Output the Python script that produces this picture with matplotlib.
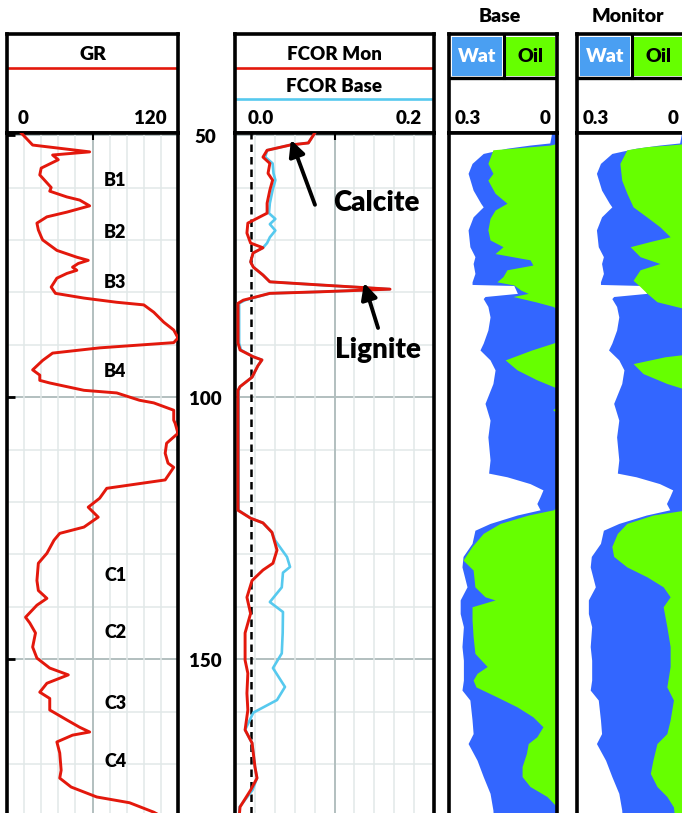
import numpy as np
import matplotlib
matplotlib.use("Agg")
import matplotlib.pyplot as plt
from matplotlib.patches import Rectangle
from matplotlib.transforms import blended_transform_factory

plt.rcParams['font.family'] = ['Lato', 'DejaVu Sans']
plt.rcParams['font.weight'] = 'heavy'

# ---------------- data ----------------
gr_depth = [49.6, 51.9, 53.2, 53.8, 54.7, 56.3, 57.6, 60.0, 60.7, 61.8, 62.4, 63.5, 64.7, 65.6,
            66.8, 68.1, 69.4, 70.0, 72.0, 73.3, 73.9, 74.5, 75.2, 75.8, 76.4, 77.3, 79.0, 80.2,
            81.1, 81.9, 82.4, 83.8, 85.7, 87.2, 88.7, 89.6, 90.6, 91.6, 93.0, 94.8, 95.8, 96.8,
            97.3, 98.7, 99.2, 100.6, 101.1, 102.5, 104.4, 105.0, 106.9, 108.8, 110.7, 112.6,
            113.4, 115.8, 117.4, 119.3, 121.0, 122.9, 124.8, 126.0, 127.3, 129.8, 131.7, 135.0,
            136.9, 138.4, 139.7, 142.0, 143.1, 145.0, 147.7, 149.8, 151.7, 153.0, 154.6, 156.3,
            157.5, 159.7, 161.6, 163.0, 163.9, 164.5, 165.8, 167.9, 171.2, 172.7, 174.4, 176.3,
            177.4, 179.2, 181.0]
gr_api = [10, 18, 58, 32, 36, 24, 23, 31, 30, 42, 51, 58, 42, 28,
          21, 22, 24, 25, 35, 49, 57, 50, 46, 49, 42, 35, 31, 34,
          54, 77, 96, 103, 110, 117, 120, 117, 65, 32, 25, 18, 23, 23,
          30, 54, 77, 93, 103, 117, 117, 118, 120, 112, 111, 113,
          117, 111, 70, 65, 57, 64, 54, 37, 33, 28, 22, 21,
          22, 28, 21, 13, 16, 20, 18, 21, 30, 43, 28, 23,
          30, 30, 42, 51, 58, 46, 35, 37, 38, 37, 45, 63,
          86, 103, 115]

zone_names = ["B1", "B2", "B3", "B4", "C1", "C2", "C3", "C4"]
zone_depths = [58.6, 68.5, 78.2, 95.2, 134.0, 144.9, 158.4, 169.6]

fcor_mon_depth = [49.6, 51.5, 51.9, 52.9, 54.2, 55.4, 57.3, 58.6, 60.5, 63.0, 64.9, 65.8, 66.8,
                  68.7, 70.6, 71.5, 72.5, 74.2, 75.2, 76.7, 78.0, 78.6, 79.4, 79.9, 80.2, 81.5,
                  82.1, 89.7, 91.0, 92.3, 92.9, 94.0, 96.2, 98.0, 98.7, 121.6, 123.1, 124.0,
                  125.8, 129.2, 131.7, 133.0, 135.0, 138.2, 141.3, 145.0, 150.2, 152.7, 156.5,
                  159.7, 163.5, 166.0, 170.6, 172.7, 175.0, 178.2, 182.6]
fcor_mon = [0.070, 0.063, 0.043, 0.018, 0.0135, 0.021, 0.019, 0.024, 0.021, 0.018, 0.018, 0.008,
            -0.003, -0.004, 0.0, 0.0135, 0.0027, 0.0, 0.003, 0.0135, 0.021, 0.076, 0.152, 0.076,
            0.021, -0.008, -0.0137, -0.0137, -0.0115, 0.003, 0.0124, 0.008, 0.0016, -0.0115,
            -0.0137, -0.0137, 0.0, 0.0135, 0.0233, 0.0288, 0.0244, 0.0135, 0.0016, -0.004, 0.0,
            -0.006, -0.006, -0.003, -0.004, -0.003, -0.006, 0.0016, 0.0048, 0.007, 0.0, -0.0115,
            -0.0137]

fcor_base_depth = [49.6, 51.5, 51.9, 52.9, 54.2, 55.4, 57.3, 58.6, 60.5, 63.0, 64.9, 66.0, 67.0,
                   68.2, 69.5, 70.6, 71.5, 72.5, 74.2, 75.2, 76.7, 78.0, 78.6, 79.4, 79.9, 80.2,
                   81.5, 82.1, 89.7, 91.0, 92.3, 92.9, 94.0, 96.2, 98.0, 98.7, 121.6, 123.1,
                   124.0, 125.8, 127.3, 130.5, 132.4, 133.5, 136.3, 139.1, 141.0, 145.0, 148.9,
                   151.7, 155.3, 157.8, 160.2, 161.3, 163.5, 166.0, 170.6, 172.7, 175.0, 178.2,
                   182.6]
fcor_base = [0.070, 0.063, 0.043, 0.018, 0.016, 0.024, 0.025, 0.027, 0.024, 0.021, 0.020, 0.027,
             0.021, 0.027, 0.021, 0.018, 0.0135, 0.0027, 0.0, 0.003, 0.0135, 0.021, 0.076, 0.152,
             0.076, 0.021, -0.006, -0.0125, -0.0125, -0.0105, 0.003, 0.0124, 0.008, 0.0016,
             -0.0115, -0.0130, -0.0130, 0.0, 0.0135, 0.0233, 0.0266, 0.0397, 0.043, 0.0353,
             0.034, 0.021, 0.0353, 0.035, 0.034, 0.0244, 0.0375, 0.0288, 0.003, 0.0, -0.006,
             0.0016, 0.0048, 0.007, 0.002, -0.012, -0.0137]

# porosity (shared by both saturation tracks)
phi_depth = [49.6, 51.5, 51.9, 52.5, 53.5, 55.4, 57.3, 60.5, 63.0, 63.7, 64.3, 65.6, 68.1, 71.3,
             73.2, 74.5, 76.4, 78.0, 78.5, 78.7, 80.2, 80.8, 81.2, 82.7, 84.7, 87.2, 89.7, 91.0,
             92.9, 94.8, 97.4, 101.2, 104.4, 107.6, 112.0, 114.5, 115.2, 116.5, 117.7, 119.0,
             120.3, 121.5, 122.5, 124.1, 125.4, 127.9, 130.4, 132.4, 136.2, 138.7, 141.3, 143.8,
             147.6, 150.2, 154.0, 155.9, 157.8, 161.6, 164.2, 166.1, 169.3, 172.4, 175.6, 178.8,
             182.6]
phi = [0.015, 0.02, 0.075, 0.139, 0.205, 0.236, 0.247, 0.233, 0.212, 0.205, 0.214, 0.233, 0.247,
       0.242, 0.228, 0.233, 0.228, 0.236, 0.236, 0.12, 0.11, 0.20, 0.205, 0.192, 0.186, 0.192,
       0.205, 0.214, 0.186, 0.172, 0.178, 0.20, 0.186, 0.192, 0.186, 0.19, 0.139, 0.075, 0.039,
       0.047, 0.056, 0.047, 0.111, 0.186, 0.228, 0.236, 0.261, 0.264, 0.25, 0.269, 0.269, 0.26,
       0.264, 0.26, 0.26, 0.264, 0.242, 0.236, 0.233, 0.247, 0.222, 0.205, 0.186, 0.178, 0.175]

bvo_base_depth = [49.6, 51.6, 51.9, 52.2, 52.8, 55.4, 57.3, 58.6, 61.1, 63.0, 64.3, 65.9, 68.1,
                  70.0, 71.3, 72.6, 73.8, 74.8, 75.7, 77.0, 78.0, 78.6, 79.6, 80.2, 80.8, 81.8,
                  82.7, 83.2, 89.4, 89.7, 91.0, 92.9, 94.8, 96.7, 98.0, 98.3, 101.8, 102.4, 103.0,
                  120.9, 121.5, 122.5, 124.1, 126.0, 128.5, 131.1, 133.0, 136.2, 138.1, 138.7,
                  140.0, 142.5, 145.7, 148.9, 151.4, 152.7, 154.0, 155.3, 157.2, 159.1, 161.0,
                  162.9, 164.8, 166.1, 168.0, 170.5, 172.4, 174.3, 176.2, 178.2, 182.6]
bvo_base = [0.0, 0.0, 0.019, 0.07, 0.178, 0.192, 0.178, 0.192, 0.172, 0.139, 0.172, 0.186, 0.192,
            0.186, 0.15, 0.172, 0.075, 0.067, 0.139, 0.15, 0.167, 0.12, 0.10, 0.08, 0.122, 0.06,
            0.011, 0.0, 0.0, 0.011, 0.07, 0.144, 0.111, 0.056, 0.01, 0.0, 0.0, 0.012, 0.0,
            0.0, 0.01, 0.08, 0.158, 0.205, 0.236, 0.261, 0.233, 0.228, 0.20, 0.172,
            0.236, 0.236, 0.233, 0.228, 0.194, 0.222, 0.233, 0.225, 0.167, 0.111, 0.067,
            0.039, 0.056, 0.08, 0.085, 0.097, 0.097, 0.075, 0.028, 0.0, 0.0]

bvo_mon_depth = [49.6, 51.6, 51.9, 52.2, 52.8, 55.4, 58.6, 61.1, 63.7, 65.6, 67.5, 69.4, 70.3,
                 71.3, 73.2, 74.5, 75.7, 77.7, 78.9, 80.2, 81.8, 82.7, 83.2, 91.8, 92.3, 93.6,
                 95.5, 97.4, 98.6, 121.5, 122.5, 124.1, 126.0, 128.5, 130.4, 132.4, 134.3, 136.2,
                 138.1, 140.0, 143.8, 147.6, 151.4, 155.3, 157.8, 161.6, 164.2, 166.1, 169.3,
                 171.8, 174.3, 176.2, 178.2, 182.6]
bvo_mon = [0.0, 0.0, 0.05, 0.109, 0.164, 0.183, 0.178, 0.164, 0.147, 0.11, 0.074, 0.046, 0.10,
           0.155, 0.128, 0.074, 0.128, 0.147, 0.128, 0.109, 0.082, 0.03, 0.0, 0.0, 0.06, 0.147,
           0.12, 0.055, 0.0, 0.0, 0.093, 0.164, 0.19, 0.205, 0.20, 0.164, 0.109, 0.065,
           0.046, 0.065, 0.055, 0.046, 0.046, 0.055, 0.037, 0.046, 0.055, 0.082, 0.093,
           0.10, 0.082, 0.055, 0.037, 0.03]

# ---------------- layout helpers ----------------
W, H = 682, 813
fig = plt.figure(figsize=(W / 100, H / 100), dpi=100)

RED = '#e3180c'
CYAN = '#56c9ee'
WAT_HDR = '#4a9ff2'
WAT = '#3366ff'
OIL = '#66ff00'
GRID_MINOR = '#e1e8e8'
GRID_MAJOR = '#b2bfbf'
DEPTH_TOP, DEPTH_BOT = 49.6, 182.6
HDR_TOP, DATA_TOP, DATA_BOT = 34, 133, 830


def px_axes(x0, y0, x1, y1):
    return fig.add_axes([x0 / W, 1 - y1 / H, (x1 - x0) / W, (y1 - y0) / H])


def style_box(ax):
    for s in ax.spines.values():
        s.set_linewidth(2.6)
        s.set_color('black')


def header_axes(x0, x1):
    ax = px_axes(x0, HDR_TOP, x1, DATA_TOP)
    ax.set_xlim(x0, x1)
    ax.set_ylim(DATA_TOP, HDR_TOP)
    ax.set_xticks([])
    ax.set_yticks([])
    style_box(ax)
    return ax


def data_axes(x0, x1, xlim):
    ax = px_axes(x0, DATA_TOP, x1, DATA_BOT)
    ax.set_xlim(*xlim)
    ax.set_ylim(DEPTH_BOT, DEPTH_TOP)
    ax.set_xticks([])
    ax.set_yticks([])
    style_box(ax)
    return ax


def draw_grid(ax, xmin, xmax):
    for d in range(50, 181, 10):
        major = d % 50 == 0
        ax.axhline(d, color=GRID_MAJOR if major else GRID_MINOR,
                   lw=1.4 if major else 1.1, zorder=0)
    xs = np.linspace(xmin, xmax, 11)[1:-1]
    for i, x in enumerate(xs):
        major = i == 4
        ax.axvline(x, color=GRID_MAJOR if major else GRID_MINOR,
                   lw=1.4 if major else 1.1, zorder=0)
    ax.set_xticks([xs[4]])
    ax.tick_params(axis='x', top=True, bottom=False, direction='in', length=5,
                   width=1.5, labeltop=False, labelbottom=False)


# ---------------- GR track ----------------
gx0, gx1 = 7, 178
hg = header_axes(gx0, gx1)
hg.text((gx0 + gx1) / 2, 55, "GR", ha='center', va='center', fontsize=14)
hg.plot([gx0, gx1], [68, 68], color=RED, lw=1.9)
hg.text(gx0 + 11, 118, "0", ha='left', va='center', fontsize=13.5)
hg.text(gx1 - 11, 118, "120", ha='right', va='center', fontsize=13.5)

ag = data_axes(gx0, gx1, (0, 120))
draw_grid(ag, 0, 120)
ag.plot(gr_api, gr_depth, color=RED, lw=2.1, zorder=3)
ag.set_yticks([50, 100, 150])
ag.tick_params(axis='y', left=True, direction='in', length=6, width=2, labelleft=False)
for name, d in zip(zone_names, zone_depths):
    ag.text(76, d, name, ha='center', va='center', fontsize=13, zorder=4)
bt = blended_transform_factory(ag.transAxes, ag.transData)
for d in [50, 100, 150]:
    ag.text((205 - gx0) / (gx1 - gx0), d + 0.4, str(d), transform=bt, ha='center',
            va='center', fontsize=13.5, clip_on=False)

# ---------------- FCOR track ----------------
fx0, fx1 = 235, 434
FMIN, FMAX = -0.017, 0.2
hf = header_axes(fx0, fx1)
hf.text((fx0 + fx1) / 2, 55, "FCOR Mon", ha='center', va='center', fontsize=13.5)
hf.plot([fx0, fx1], [68, 68], color=RED, lw=1.9)
hf.text((fx0 + fx1) / 2, 86, "FCOR Base", ha='center', va='center', fontsize=13.5)
hf.plot([fx0, fx1], [99, 99], color=CYAN, lw=1.9)
hf.text(fx0 + 13, 118, "0.0", ha='left', va='center', fontsize=13.5)
hf.text(fx1 - 12, 118, "0.2", ha='right', va='center', fontsize=13.5)

af = data_axes(fx0, fx1, (FMIN, FMAX))
draw_grid(af, FMIN, FMAX)
af.axvline(0.0, color='black', lw=1.8, dashes=(3, 2), zorder=2)
af.plot(fcor_base, fcor_base_depth, color=CYAN, lw=1.9, zorder=3)
af.plot(fcor_mon, fcor_mon_depth, color=RED, lw=2.1, zorder=4)
arrow = dict(arrowstyle='-|>', color='black', lw=2.8, mutation_scale=24,
             shrinkA=0, shrinkB=0)
af.annotate("", xy=(0.044, 50.9), xytext=(0.0702, 63.3), arrowprops=arrow, zorder=5)
af.annotate("", xy=(0.1237, 78.2), xytext=(0.139, 86.8), arrowprops=arrow, zorder=5)
af.text(0.1376, 62.9, "Calcite", ha='center', va='center', fontsize=20, zorder=5)
af.text(0.139, 91.0, "Lignite", ha='center', va='center', fontsize=20, zorder=5)

# ---------------- saturation tracks ----------------
def sat_track(x0, x1, title, bvo_depth, bvo):
    h = header_axes(x0, x1)
    h.add_patch(Rectangle((x0 + 3, 37), 50, 39.5, facecolor=WAT_HDR, edgecolor='none'))
    h.add_patch(Rectangle((x0 + 56, 37), 50, 39.5, facecolor=OIL, edgecolor='none'))
    h.plot([x0 + 54.5, x0 + 54.5], [35, 78], color='black', lw=2.2)
    h.plot([x0, x1], [78, 78], color='black', lw=2.4)
    h.text(x0 + 28, 57, "Wat", ha='center', va='center', fontsize=14, color='white')
    h.text(x0 + 81, 57, "Oil", ha='center', va='center', fontsize=14, color='black')
    h.text(x0 + 6, 118, "0.3", ha='left', va='center', fontsize=13.5)
    h.text(x0 + 101, 118, "0", ha='right', va='center', fontsize=13.5)
    fig.text((x0 + 51) / W, 1 - 16 / H, title, ha='center', va='center', fontsize=14)

    a = data_axes(x0, x1, (0.3, 0.0))
    a.fill_betweenx(phi_depth, phi, 0, color=WAT, lw=0, zorder=1)
    a.fill_betweenx(bvo_depth, bvo, 0, color=OIL, lw=0, zorder=2)
    return a


sat_track(449, 557, "Base", bvo_base_depth, bvo_base)
sat_track(577, 687, "Monitor", bvo_mon_depth, bvo_mon)

fig.savefig("out.png", dpi=100)
